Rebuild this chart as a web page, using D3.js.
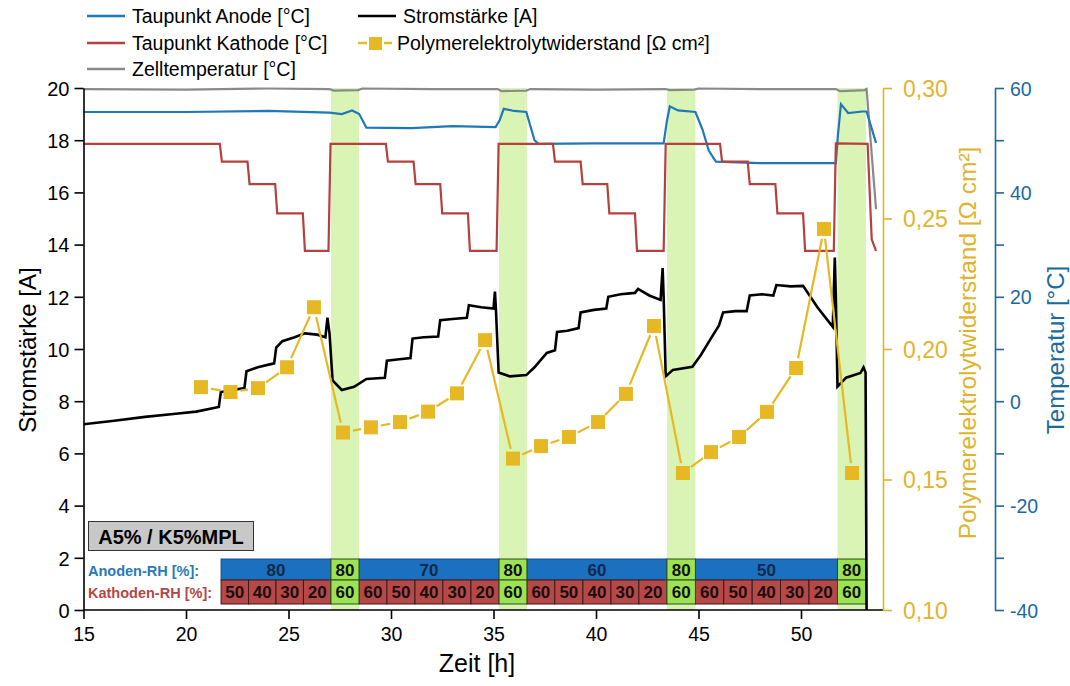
<!DOCTYPE html>
<html>
<head>
<meta charset="utf-8">
<script src="https://cdn.jsdelivr.net/npm/d3@7"></script>
<style>
body { margin: 0; background: #fff; }
svg { font-family: "Liberation Sans", Arial, sans-serif; }
</style>
</head>
<body>
<svg></svg>
<script>
// current [h, A]
var strom = [[15.0,7.12],[16.5,7.25],[18.0,7.4],[19.5,7.52],[20.5,7.6],[21.6,7.78],[21.7,8.35],[22.2,8.42],[22.85,8.5],[22.95,9.15],[23.5,9.3],[24.3,9.45],[24.4,10.05],[24.7,10.3],[25.3,10.45],[25.8,10.6],[26.4,10.55],[26.8,10.45],[26.9,11.2],[27.0,10.6],[27.15,8.8],[27.6,8.43],[28.2,8.55],[28.8,8.85],[29.7,8.9],[29.8,9.55],[30.3,9.6],[30.95,9.65],[31.05,10.4],[31.6,10.45],[32.3,10.48],[32.4,11.1],[33.0,11.15],[33.7,11.2],[33.8,11.68],[34.4,11.6],[35.0,11.55],[35.07,12.2],[35.12,11.5],[35.25,9.1],[35.8,8.95],[36.6,9.0],[37.0,9.3],[37.6,9.85],[38.0,9.95],[38.1,10.65],[38.6,10.7],[39.15,10.8],[39.25,11.4],[39.9,11.5],[40.5,11.55],[40.6,12.0],[41.2,12.1],[41.9,12.15],[42.05,12.3],[42.6,12.05],[43.15,11.88],[43.25,13.1],[43.3,12.0],[43.4,8.95],[43.75,9.2],[44.7,9.32],[45.1,9.75],[45.6,10.4],[46.0,10.9],[46.2,11.4],[46.8,11.45],[47.35,11.45],[47.5,12.05],[48.1,12.1],[48.65,12.05],[48.8,12.45],[49.5,12.4],[50.1,12.42],[50.8,11.6],[51.55,10.85],[51.65,13.5],[51.7,12.0],[51.78,8.56],[52.2,8.9],[52.9,9.08],[53.05,9.3],[53.15,9.1],[53.2,0]]

// temperatures [h, °C]
var zellTemp = [[15,59.8],[20,59.7],[24,59.9],[27.0,59.8],[27.2,59.5],[28.4,59.6],[28.6,59.9],[32,59.8],[35.2,59.8],[35.4,59.4],[36.6,59.5],[36.8,59.8],[40,59.7],[43.4,59.8],[43.6,59.6],[44.8,59.7],[45.0,59.9],[48,59.8],[51.7,59.8],[51.9,59.4],[52.6,59.5],[53.1,59.6],[53.2,59.8],[53.66,36.8]]
var tpAnode = [[15,55.4],[20,55.4],[24,55.6],[27.0,55.3],[27.6,55.0],[28.1,55.7],[28.45,55.0],[28.8,52.4],[31,52.3],[33,52.7],[35.1,52.5],[35.3,53.8],[35.5,56.0],[36.0,55.6],[36.6,55.4],[37.0,50.0],[37.2,49.3],[40,49.4],[43.3,49.4],[43.45,53.5],[43.6,56.5],[44.0,55.7],[44.85,55.4],[45.2,52.0],[45.5,48.0],[45.85,45.9],[48,45.6],[51.7,45.6],[51.8,51.0],[51.95,56.9],[52.3,55.2],[53.0,55.5],[53.2,55.5],[53.66,49.5]]
var tpKathode = [[15,49.3],[21.65,49.3],[21.75,45.9],[23.0,45.9],[23.1,41.6],[24.35,41.6],[24.45,36.0],[25.7,36.0],[25.8,28.8],[26.95,28.8],[27.05,49.3],[29.75,49.3],[29.85,45.9],[31.1,45.9],[31.2,41.6],[32.4,41.6],[32.5,36.0],[33.75,36.0],[33.85,28.8],[35.15,28.8],[35.25,49.3],[37.9,49.3],[38.0,45.9],[39.25,45.9],[39.35,41.6],[40.55,41.6],[40.65,36.0],[41.9,36.0],[42.0,28.8],[43.3,28.8],[43.4,49.3],[46.05,49.3],[46.15,45.9],[47.4,45.9],[47.5,41.6],[48.75,41.6],[48.85,36.0],[50.1,36.0],[50.2,28.8],[51.6,28.8],[51.7,49.4],[53.25,49.3],[53.45,31],[53.66,28.8]]

// membrane resistance
var rTime = [20.73,22.17,23.51,24.93,26.24,27.66,29.02,30.44,31.81,33.22,34.59,35.95,37.32,38.68,40.10,41.46,42.83,44.24,45.61,46.98,48.34,49.76,51.12,52.49]
var rValue = [0.1854,0.1835,0.185,0.193,0.216,0.168,0.170,0.172,0.176,0.183,0.2034,0.158,0.1628,0.1663,0.172,0.1828,0.2088,0.1525,0.1605,0.1663,0.1759,0.1927,0.246,0.1525]

// 80/60 phases
var bandStart = [27.07, 35.27, 43.46, 51.78]
var bandEnd = [28.44, 36.63, 44.85, 53.17]

// RH table
var anodeFrom = [21.71, 28.44, 36.63, 44.85]
var anodeTo = [27.07, 35.27, 43.46, 51.78]
var anodeRH = ['80', '70', '60', '50']
var kathBounds = [
	[21.71, 23.05, 24.39, 25.73, 27.07],
	[28.44, 29.80, 31.17, 32.53, 33.90, 35.27],
	[36.63, 37.99, 39.36, 40.73, 42.09, 43.46],
	[44.85, 46.23, 47.62, 49.0, 50.39, 51.78]
]
var kathRH = [['50','40','30','20'], ['60','50','40','30','20'], ['60','50','40','30','20'], ['60','50','40','30','20']]

var xTicks = [15, 20, 25, 30, 35, 40, 45, 50]
var yTicks = [0, 2, 4, 6, 8, 10, 12, 14, 16, 18, 20]
var rTicks = [0.10, 0.15, 0.20, 0.25, 0.30]
var tTicks = [-40, -20, 0, 20, 40, 60]
var tMinor = [-30, -10, 10, 30, 50]

var width = 1070, height = 686
var cBlue = '#1f78b8', cRed = '#b5413f', cGray = '#8a8a8a', cGold = '#e6b824'
var cGoldAxis = '#dfb42c', cTempAxis = '#1b6a9e'

var svg = d3.select('svg').attr('width', width).attr('height', height)

var x = d3.scaleLinear().domain([15, 54]).range([83.5, 883])
var y = d3.scaleLinear().domain([0, 20]).range([610, 88])
var yR = d3.scaleLinear().domain([0.10, 0.30]).range([610, 88])
var yT = d3.scaleLinear().domain([-40, 60]).range([610, 88])

// green bands
svg.append('g').selectAll('rect').data(bandStart).enter().append('rect')
	.attr('x', function(d) {return x(d)})
	.attr('width', function(d, i) {return x(bandEnd[i]) - x(d)})
	.attr('y', 88).attr('height', 610 - 88)
	.attr('fill', '#daf4b6')

// table of RH values
var tbl = svg.append('g').style('font-weight', 'bold').style('font-size', '17px')
var rowA = [559, 580], rowK = [580, 604]

function cell(x0, x1, y0, y1, fill, stroke, label, color) {
	tbl.append('rect').attr('x', x(x0)).attr('y', y0).attr('width', x(x1) - x(x0)).attr('height', y1 - y0)
		.attr('fill', fill).attr('stroke', stroke).attr('stroke-width', 1)
	tbl.append('text').attr('x', (x(x0) + x(x1)) / 2).attr('y', (y0 + y1) / 2 + 6)
		.attr('text-anchor', 'middle').attr('fill', color).text(label)
}

anodeFrom.forEach(function(a, i) {
	cell(a, anodeTo[i], rowA[0], rowA[1], '#1b71c0', '#15518a', anodeRH[i], '#10284a')
})
kathBounds.forEach(function(b, i) {
	for (var j = 0; j < b.length - 1; j++) cell(b[j], b[j + 1], rowK[0], rowK[1], '#b64848', '#3a1a1a', kathRH[i][j], '#1a0d0d')
})
bandStart.forEach(function(b, i) {
	cell(b, bandEnd[i], rowA[0], rowA[1], '#9be352', '#2d4a1a', '80', '#111')
	cell(b, bandEnd[i], rowK[0], rowK[1], '#9be352', '#2d4a1a', '60', '#111')
})
tbl.append('text').attr('x', 88).attr('y', 576).attr('fill', '#2a7ab8').style('font-size', '14.5px').text('Anoden-RH [%]:')
tbl.append('text').attr('x', 88).attr('y', 598).attr('fill', '#b04848').style('font-size', '14.5px').text('Kathoden-RH [%]:')

// sample label
svg.append('rect').attr('x', 88.5).attr('y', 521.5).attr('width', 165).attr('height', 29)
	.attr('fill', '#c8c8c8').attr('stroke', '#333').attr('stroke-width', 1)
svg.append('text').attr('x', 171).attr('y', 543.5).attr('text-anchor', 'middle')
	.style('font-weight', 'bold').style('font-size', '20px').text('A5% / K5%MPL')

// lines
var lineT = d3.line().x(function(d) {return x(d[0])}).y(function(d) {return yT(d[1])})
var lineS = d3.line().x(function(d) {return x(d[0])}).y(function(d) {return y(d[1])})

svg.append('path').datum(zellTemp).attr('d', lineT).attr('fill', 'none').attr('stroke', cGray).attr('stroke-width', 2.2)
svg.append('path').datum(tpAnode).attr('d', lineT).attr('fill', 'none').attr('stroke', cBlue).attr('stroke-width', 2.2)
svg.append('path').datum(tpKathode).attr('d', lineT).attr('fill', 'none').attr('stroke', cRed).attr('stroke-width', 2.2)
svg.append('path').datum(strom).attr('d', lineS).attr('fill', 'none').attr('stroke', '#000').attr('stroke-width', 2.6)

// resistance: segments with a gap to the symbols
var gap = 10
var rg = svg.append('g')
for (var i = 0; i < rTime.length - 1; i++) {
	var x1 = x(rTime[i]), y1 = yR(rValue[i]), x2 = x(rTime[i + 1]), y2 = yR(rValue[i + 1])
	var len = Math.sqrt((x2 - x1) * (x2 - x1) + (y2 - y1) * (y2 - y1))
	var ux = (x2 - x1) / len, uy = (y2 - y1) / len
	rg.append('line')
		.attr('x1', x1 + ux * gap).attr('y1', y1 + uy * gap)
		.attr('x2', x2 - ux * gap).attr('y2', y2 - uy * gap)
		.attr('stroke', cGold).attr('stroke-width', 2.2)
}
rg.selectAll('rect').data(rTime).enter().append('rect')
	.attr('x', function(d) {return x(d) - 7}).attr('y', function(d, i) {return yR(rValue[i]) - 7})
	.attr('width', 14).attr('height', 14).attr('fill', cGold)

// axes
function styleAxis(g, color, size) {
	g.select('.domain').attr('stroke', color).attr('stroke-width', 1.6)
	g.selectAll('.tick line').attr('stroke', color).attr('stroke-width', 1.6)
	g.selectAll('.tick text').attr('fill', color).style('font-size', size).style('font-family', '"Liberation Sans", Arial, sans-serif')
}

var gx = svg.append('g').attr('transform', 'translate(0,610)')
	.call(d3.axisBottom(x).tickValues(xTicks).tickSize(9).tickSizeOuter(0).tickPadding(8))
styleAxis(gx, '#000', '19.5px')
gx.select('.domain').attr('d', 'M' + x(15) + ',0H' + x(54))

var gy = svg.append('g').attr('transform', 'translate(83.5,0)')
	.call(d3.axisLeft(y).tickValues(yTicks).tickSize(9).tickSizeOuter(0).tickPadding(5))
styleAxis(gy, '#000', '20px')
gy.selectAll('.tick text').attr('dy', '0.36em')

var gr = svg.append('g').attr('transform', 'translate(883,0)')
	.call(d3.axisRight(yR).tickValues(rTicks).tickSize(9).tickSizeOuter(0).tickPadding(11)
		.tickFormat(function(d) {return d3.format('.2f')(d).replace('.', ',')}))
styleAxis(gr, cGoldAxis, '23px')
gr.selectAll('.tick text').attr('dy', '0.36em')

var gt = svg.append('g').attr('transform', 'translate(995,0)')
	.call(d3.axisRight(yT).tickValues(tTicks).tickSize(9).tickSizeOuter(0).tickPadding(6)
		.tickFormat(function(d) {return String(d)}))
styleAxis(gt, cTempAxis, '19.5px')
gt.selectAll('.tick text').attr('dy', '0.36em')
svg.append('g').attr('transform', 'translate(995,0)')
	.call(d3.axisRight(yT).tickValues(tMinor).tickSize(9).tickFormat(''))
	.call(function(g) {
		g.select('.domain').remove()
		g.selectAll('.tick line').attr('stroke', cTempAxis).attr('stroke-width', 1.6)
	})

// axis titles
svg.append('text').attr('x', 477).attr('y', 672).attr('text-anchor', 'middle').style('font-size', '25px').text('Zeit [h]')
svg.append('text').attr('transform', 'translate(36,350) rotate(-90)').attr('text-anchor', 'middle').style('font-size', '24px').text('Stromstärke [A]')
svg.append('text').attr('transform', 'translate(976,343) rotate(-90)').attr('text-anchor', 'middle')
	.attr('fill', cGoldAxis).style('font-size', '24.5px').text('Polymerelektrolytwiderstand [Ω cm²]')
svg.append('text').attr('transform', 'translate(1064,350) rotate(-90)').attr('text-anchor', 'middle')
	.attr('fill', cTempAxis).style('font-size', '24px').text('Temperatur [°C]')

// legend
var legend = svg.append('g').style('font-size', '19.5px')
var legItems = [
	{x: 87, y: 16, c: cBlue, t: 'Taupunkt Anode [°C]'},
	{x: 87, y: 43, c: cRed, t: 'Taupunkt Kathode [°C]'},
	{x: 87, y: 69, c: cGray, t: 'Zelltemperatur [°C]'},
	{x: 358, y: 16, c: '#000', t: 'Stromstärke [A]'}
]
legItems.forEach(function(d) {
	legend.append('line').attr('x1', d.x).attr('x2', d.x + 38).attr('y1', d.y).attr('y2', d.y)
		.attr('stroke', d.c).attr('stroke-width', 2.4)
	legend.append('text').attr('x', d.x + 45).attr('y', d.y + 7).text(d.t)
})
legend.append('line').attr('x1', 358).attr('x2', 367).attr('y1', 43).attr('y2', 43).attr('stroke', cGold).attr('stroke-width', 2.4)
legend.append('line').attr('x1', 384).attr('x2', 392).attr('y1', 43).attr('y2', 43).attr('stroke', cGold).attr('stroke-width', 2.4)
legend.append('rect').attr('x', 369).attr('y', 37).attr('width', 13).attr('height', 13).attr('fill', cGold)
legend.append('text').attr('x', 397).attr('y', 50).text('Polymerelektrolytwiderstand [Ω cm²]')
</script>
</body>
</html>
